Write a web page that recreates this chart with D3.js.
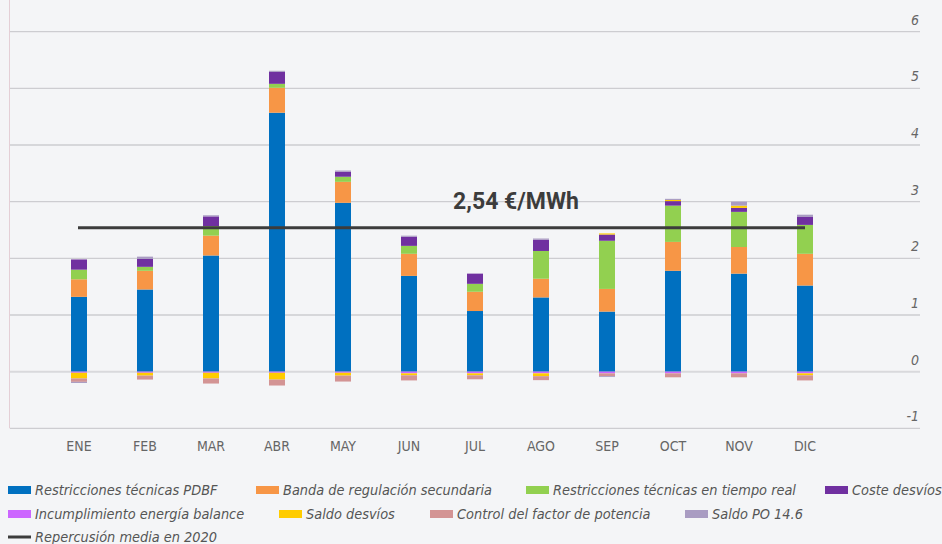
<!DOCTYPE html>
<html>
<head>
<meta charset="utf-8">
<script src="https://cdn.jsdelivr.net/npm/d3@7/dist/d3.min.js"></script>
<style>
  html, body { margin: 0; padding: 0; background: #f4f5f7; }
  svg { display: block; }
  .narrow { font-family: "Liberation Sans Narrow", "DejaVu Sans Condensed", "Arial Narrow", sans-serif; }
</style>
</head>
<body>
<div id="chart"></div>
<script>
const months = ["ENE", "FEB", "MAR", "ABR", "MAY", "JUN", "JUL", "AGO", "SEP", "OCT", "NOV", "DIC"];

const pdbf           = [1.32, 1.45, 2.05, 4.57, 2.98, 1.69, 1.07, 1.31, 1.06, 1.78, 1.73, 1.52];
const bandaSecundaria = [0.31, 0.33, 0.35, 0.44, 0.37, 0.39, 0.34, 0.33, 0.40, 0.51, 0.47, 0.56];
const tiempoReal     = [0.17, 0.07, 0.17, 0.07, 0.09, 0.14, 0.14, 0.49, 0.85, 0.64, 0.62, 0.51];
const costeDesvios   = [0.18, 0.14, 0.17, 0.21, 0.09, 0.16, 0.18, 0.20, 0.11, 0.08, 0.07, 0.14];
const incumplimiento = [-0.02, -0.02, -0.02, -0.02, -0.02, -0.03, -0.03, -0.03, -0.03, -0.03, -0.03, -0.03];
const saldoDesvios   = [-0.10, -0.05, -0.10, -0.12, -0.05, -0.035, -0.035, -0.05, 0.02, 0.02, 0.04, -0.035];
const controlFactor  = [-0.06, -0.07, -0.09, -0.105, -0.105, -0.09, -0.07, -0.07, -0.05, -0.07, -0.07, -0.09];
const saldoPO146     = [-0.02, 0.04, 0.02, 0.02, 0.02, 0.02, 0, 0.02, -0.015, 0.02, 0.07, 0.04];

const mediaAnual = 2.54;
const yTicks = [-1, 0, 1, 2, 3, 4, 5, 6];

const series = [
  { key: "pdbf", name: "Restricciones técnicas PDBF", values: pdbf, color: "#0070c0" },
  { key: "banda", name: "Banda de regulación secundaria", values: bandaSecundaria, color: "#f79646" },
  { key: "rtr", name: "Restricciones técnicas en tiempo real", values: tiempoReal, color: "#92d050" },
  { key: "coste", name: "Coste desvíos", values: costeDesvios, color: "#7030a0" },
  { key: "incump", name: "Incumplimiento energía balance", values: incumplimiento, color: "#cc66ff" },
  { key: "saldo", name: "Saldo desvíos", values: saldoDesvios, color: "#ffcc00" },
  { key: "control", name: "Control del factor de potencia", values: controlFactor, color: "#d39494" },
  { key: "po146", name: "Saldo PO 14.6", values: saldoPO146, color: "#a99cc2" }
];

const width = 942, height = 544;

const svg = d3.select("#chart").append("svg")
  .attr("width", width)
  .attr("height", height)
  .style("background", "#f4f5f7");

const x = d3.scalePoint().domain(months).range([46, 838]).padding(0.5);
const y = d3.scaleLinear().domain([-1, 6]).range([428.3, 31.7]);
const barW = 16;

// rows for the stack
const rows = months.map((m, i) => {
  const r = { month: m };
  series.forEach(s => { r[s.key] = s.values[i]; });
  return r;
});

const stacked = d3.stack()
  .keys(series.map(s => s.key))
  .offset(d3.stackOffsetDiverging)(rows);

// left border
svg.append("line")
  .attr("x1", 9.5).attr("x2", 9.5)
  .attr("y1", 0).attr("y2", y(-1))
  .attr("stroke", "#e4cfd6");

// grid + y labels
const grid = svg.append("g");
grid.selectAll("line")
  .data(yTicks)
  .join("line")
  .attr("x1", 10).attr("x2", 920)
  .attr("y1", d => y(d)).attr("y2", d => y(d))
  .attr("stroke", d => d === 0 ? "#d9d9dc" : "#cdcdd1")
  .attr("stroke-width", d => d === 0 ? 2 : 1.3);

grid.selectAll("text")
  .data(yTicks)
  .join("text")
  .attr("class", "narrow")
  .attr("x", 919)
  .attr("y", d => y(d) - 7)
  .attr("text-anchor", "end")
  .attr("font-size", 14)
  .attr("font-style", "italic")
  .attr("fill", "#666")
  .text(d => d);

// bars
const bars = svg.append("g");
bars.selectAll("g")
  .data(stacked)
  .join("g")
  .attr("fill", (d, i) => series[i].color)
  .selectAll("rect")
  .data(d => d)
  .join("rect")
  .attr("x", d => x(d.data.month) - barW / 2)
  .attr("width", barW)
  .attr("y", d => y(Math.max(d[0], d[1])))
  .attr("height", d => Math.abs(y(d[0]) - y(d[1])));

// month labels
svg.append("g").selectAll("text")
  .data(months)
  .join("text")
  .attr("class", "narrow")
  .attr("x", d => x(d))
  .attr("y", 451)
  .attr("text-anchor", "middle")
  .attr("font-size", 14)
  .attr("fill", "#666")
  .text(d => d);

// average line
svg.append("line")
  .attr("x1", x("ENE") - 1).attr("x2", x("DIC"))
  .attr("y1", y(mediaAnual)).attr("y2", y(mediaAnual))
  .attr("stroke", "#3c3c3c")
  .attr("stroke-width", 3);

svg.append("text")
  .attr("x", 516)
  .attr("y", 209)
  .attr("text-anchor", "middle")
  .attr("font-family", "Roboto, sans-serif")
  .attr("font-weight", 700)
  .attr("font-size", 23)
  .attr("fill", "#3c3c3c")
  .text("2,54 €/MWh");

// legend
const legendPos = [
  [8, 490], [256, 490], [526, 490], [825, 490],
  [8, 514], [279, 514], [430, 514], [685, 514]
];
const legend = svg.append("g");
series.forEach((s, i) => {
  const [lx, ly] = legendPos[i];
  legend.append("rect")
    .attr("x", lx).attr("y", ly - 4)
    .attr("width", 23).attr("height", 8)
    .attr("fill", s.color);
  legend.append("text")
    .attr("class", "narrow")
    .attr("x", lx + 27).attr("y", ly + 5)
    .attr("font-size", 14.4)
    .attr("font-style", "italic")
    .attr("fill", "#555")
    .text(s.name);
});
legend.append("line")
  .attr("x1", 8).attr("x2", 31)
  .attr("y1", 537).attr("y2", 537)
  .attr("stroke", "#3c3c3c").attr("stroke-width", 3);
legend.append("text")
  .attr("class", "narrow")
  .attr("x", 35).attr("y", 542)
  .attr("font-size", 14.4)
  .attr("font-style", "italic")
  .attr("fill", "#555")
  .text("Repercusión media en 2020");
</script>
</body>
</html>
